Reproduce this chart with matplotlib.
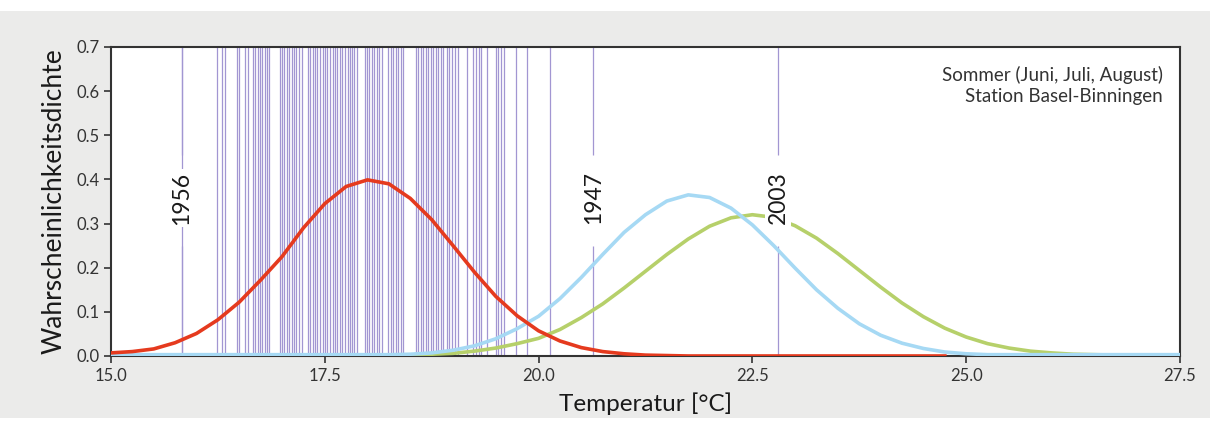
import numpy as np
import matplotlib
matplotlib.use("Agg")
from matplotlib import pyplot as plt
from matplotlib.patches import Rectangle

plt.rcParams['font.family'] = ['Lato', 'DejaVu Sans']

# summer mean temperatures (one line per year)
years_temp = [15.83, 16.24, 16.30, 16.33, 16.47, 16.50, 16.57, 16.60, 16.66, 16.68,
              16.72, 16.74, 16.77, 16.80, 16.82, 16.85, 16.98, 17.00, 17.02, 17.06,
              17.08, 17.12, 17.14, 17.16, 17.20, 17.23, 17.30, 17.33, 17.36, 17.39,
              17.41, 17.44, 17.48, 17.50, 17.53, 17.56, 17.60, 17.62, 17.64, 17.68,
              17.70, 17.74, 17.77, 17.80, 17.82, 17.84, 17.88, 17.97, 17.99, 18.02,
              18.05, 18.08, 18.11, 18.13, 18.17, 18.24, 18.27, 18.30, 18.33, 18.36,
              18.39, 18.42, 18.57, 18.59, 18.63, 18.65, 18.68, 18.71, 18.74, 18.77,
              18.80, 18.82, 18.86, 18.88, 18.93, 18.95, 18.99, 19.02, 19.06, 19.16,
              19.23, 19.27, 19.30, 19.33, 19.40, 19.50, 19.53, 19.56, 19.60, 19.74,
              19.87, 20.13]
marked_years = ['1956', '1947', '2003']
marked_temp = [15.83, 20.64, 22.80]

temp = [15.0, 15.25, 15.5, 15.75, 16.0, 16.25, 16.5, 16.75, 17.0, 17.25,
        17.5, 17.75, 18.0, 18.25, 18.5, 18.75, 19.0, 19.25, 19.5, 19.75,
        20.0, 20.25, 20.5, 20.75, 21.0, 21.25, 21.5, 21.75, 22.0, 22.25,
        22.5, 22.75, 23.0, 23.25, 23.5, 23.75, 24.0, 24.25, 24.5, 24.75,
        25.0, 25.25, 25.5, 25.75, 26.0, 26.25, 26.5, 26.75, 27.0, 27.25, 27.5]

red = [0.007, 0.010, 0.016, 0.030, 0.051, 0.082, 0.122, 0.172, 0.225, 0.290,
       0.345, 0.384, 0.399, 0.390, 0.357, 0.309, 0.250, 0.190, 0.135, 0.091,
       0.057, 0.034, 0.019, 0.010, 0.005, 0.002, 0.001, 0.0, 0.0, 0.0,
       0.0, 0.0, 0.0, 0.0, 0.0, 0.0, 0.0, 0.0, 0.0, 0.0]

blue = [0.003, 0.003, 0.003, 0.003, 0.003, 0.003, 0.003, 0.003, 0.003, 0.003,
        0.003, 0.003, 0.003, 0.003, 0.004, 0.007, 0.013, 0.023, 0.039, 0.062,
        0.090, 0.130, 0.178, 0.230, 0.280, 0.320, 0.351, 0.365, 0.359, 0.335,
        0.297, 0.250, 0.199, 0.150, 0.108, 0.073, 0.047, 0.029, 0.017, 0.009,
        0.005, 0.003, 0.003, 0.003, 0.003, 0.003, 0.003, 0.003, 0.003, 0.003, 0.003]

green = [0.002, 0.002, 0.002, 0.002, 0.002, 0.002, 0.002, 0.002, 0.002, 0.002,
         0.002, 0.002, 0.002, 0.002, 0.002, 0.004, 0.006, 0.011, 0.018, 0.028,
         0.040, 0.060, 0.087, 0.118, 0.154, 0.192, 0.230, 0.265, 0.294, 0.313,
         0.320, 0.314, 0.295, 0.267, 0.232, 0.194, 0.156, 0.120, 0.089, 0.063,
         0.043, 0.028, 0.018, 0.011, 0.007, 0.004, 0.003, 0.002, 0.002, 0.002, 0.002]

fig = plt.figure(figsize=(12.1, 4.24), dpi=100)
fig.patches.append(Rectangle((0, 0.015), 1, 0.96, transform=fig.transFigure,
                             facecolor='#ebebea', edgecolor='none', zorder=-10))
ax = fig.add_axes([0.0917, 0.1604, 0.8835, 0.7288])

line_col = '#a296d2'
ax.vlines(years_temp, 0, 0.7, color=line_col, lw=0.9, zorder=1)
ax.vlines(marked_temp, 0, 0.25, color=line_col, lw=0.9, zorder=1)
ax.vlines(marked_temp, 0.455, 0.7, color=line_col, lw=0.9, zorder=1)

ax.plot(temp, green, color='#b6d06a', lw=2.6, zorder=3)
ax.plot(temp, blue, color='#a6d9f4', lw=2.6, zorder=4)
ax.plot(temp[:len(red)], red, color='#e53a1e', lw=2.6, zorder=5)

for lab, t in zip(marked_years, marked_temp):
    ax.text(t, 0.358, lab, rotation=90, ha='center', va='center', fontsize=16.5,
            color='#1a1a1a', zorder=6,
            bbox=dict(facecolor='white', edgecolor='none', pad=1.5))

ax.text(0.984, 0.94, 'Sommer (Juni, Juli, August)\nStation Basel-Binningen',
        transform=ax.transAxes, ha='right', va='top', fontsize=13.5,
        color='#333333', linespacing=1.35)

ax.set_xlim(15, 27.5)
ax.set_ylim(0, 0.7)
ax.set_xticks([15.0, 17.5, 20.0, 22.5, 25.0, 27.5])
ax.set_xticklabels(['15.0', '17.5', '20.0', '22.5', '25.0', '27.5'])
ax.set_yticks([0.0, 0.1, 0.2, 0.3, 0.4, 0.5, 0.6, 0.7])
ax.set_yticklabels(['0.0', '0.1', '0.2', '0.3', '0.4', '0.5', '0.6', '0.7'])
ax.tick_params(labelsize=12, colors='#333333', length=5, width=1.2)
for s in ax.spines.values():
    s.set_color('#333333')
    s.set_linewidth(1.5)

ax.set_xlabel('Temperatur [°C]', fontsize=17.5, color='#1a1a1a', labelpad=6)
ax.set_ylabel('Wahrscheinlichkeitsdichte', fontsize=19, color='#1a1a1a', labelpad=7)

fig.savefig('out.png', dpi=100)
